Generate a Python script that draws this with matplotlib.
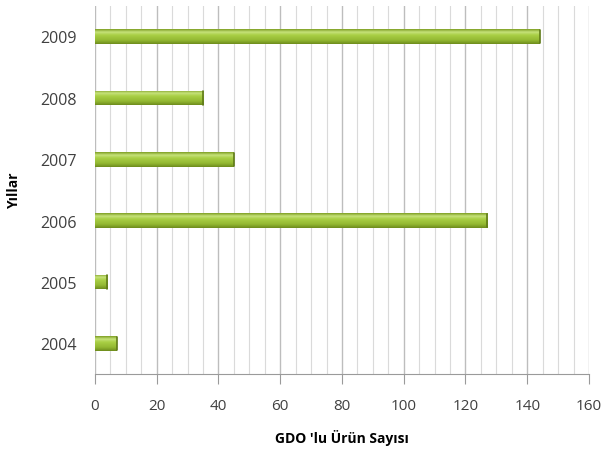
import numpy as np
import matplotlib
matplotlib.use("Agg")
from matplotlib import pyplot as plt
from matplotlib.colors import LinearSegmentedColormap

years = ['2004', '2005', '2006', '2007', '2008', '2009']
counts = [7, 4, 127, 45, 35, 144]

plt.rcParams['font.family'] = ['Open Sans', 'DejaVu Sans']

fig = plt.figure(figsize=(6.01, 4.52), dpi=100)
ax = fig.add_axes([0.158, 0.170, 0.822, 0.815])

# gradient for the cylinder look (bottom -> top of each bar)
green = LinearSegmentedColormap.from_list('grn', [
    (0.0, '#6d8c1c'), (0.25, '#93b832'), (0.6, '#a9cf45'),
    (0.8, '#c6e27a'), (1.0, '#7f9f24')])
grad = np.linspace(0, 1, 64).reshape(-1, 1)

y = np.arange(len(years))
h = 0.24
bars = ax.barh(y, counts, height=h, color='none', edgecolor='none', zorder=3)
for b in bars:
    x0, y0 = b.get_x(), b.get_y()
    w, hh = b.get_width(), b.get_height()
    im = ax.imshow(grad, cmap=green, aspect='auto', origin='lower',
                   extent=[x0, x0 + w, y0, y0 + hh], zorder=3)
    im.set_clip_path(b)
    ax.plot([x0 + w, x0 + w], [y0 + 0.01, y0 + hh - 0.01], color='#5f7a18',
            lw=1.2, zorder=4, solid_capstyle='round')

ax.set_xlim(0, 160)
ax.set_ylim(-0.5, 5.5)
ax.set_xticks(np.arange(0, 161, 20))
ax.set_xticks(np.arange(0, 161, 5), minor=True)
ax.set_yticks(y)
ax.set_yticklabels(years)
ax.grid(which='major', axis='x', color='#bdbdbd', lw=1.0, zorder=0)
ax.grid(which='minor', axis='x', color='#dadada', lw=0.8, zorder=0)

for s in ['top', 'right', 'left']:
    ax.spines[s].set_visible(False)
ax.spines['bottom'].set_color('#9a9a9a')
ax.tick_params(axis='y', length=0, pad=13, labelsize=11.5, labelcolor='#404040')
ax.tick_params(axis='x', which='major', length=7, color='#9a9a9a', pad=10,
               labelsize=11, labelcolor='#404040')
ax.tick_params(axis='x', which='minor', length=0)

ax.set_xlabel("GDO 'lu Ürün Sayısı", fontsize=10, fontweight='bold', labelpad=12)
ax.set_ylabel('Yıllar', fontsize=10, fontweight='bold', labelpad=14)

fig.savefig('out.png', dpi=100)
